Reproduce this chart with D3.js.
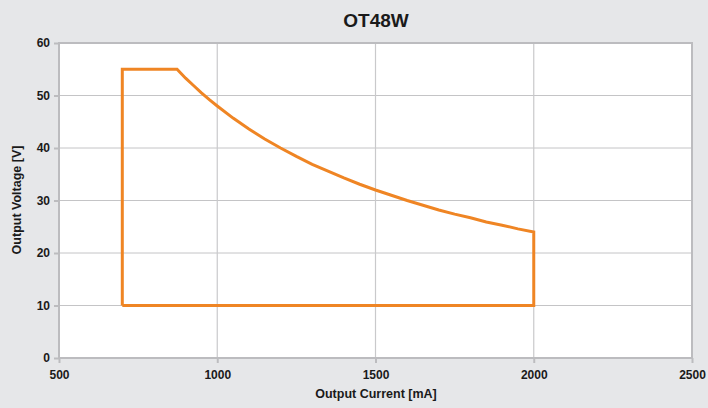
<!DOCTYPE html>
<html><head><meta charset="utf-8">
<script src="https://cdn.jsdelivr.net/npm/d3@7/dist/d3.min.js"></script>
<style>body{margin:0;background:#e6e7e9;}svg{display:block;font-family:"Liberation Sans",Arial,Helvetica,sans-serif;}</style>
</head><body><svg id="c" width="708" height="408"></svg>
<script>
const title = "OT48W";
const xLabel = "Output Current [mA]";
const yLabel = "Output Voltage [V]";
const xTicks = [500, 1000, 1500, 2000, 2500];
const yTicks = [0, 10, 20, 30, 40, 50, 60];
// operating window outline: current [mA], voltage [V]
const currents = [700, 700, 873, 900, 925, 950, 975, 1000, 1050, 1100, 1150, 1200, 1250, 1300, 1350, 1400, 1450, 1500, 1550, 1600, 1650, 1700, 1750, 1800, 1850, 1900, 1950, 2000, 2000, 700];
const voltages = [10, 55, 55, 53.3, 51.9, 50.5, 49.2, 48, 45.7, 43.6, 41.7, 40, 38.4, 36.9, 35.6, 34.3, 33.1, 32, 31.0, 30, 29.1, 28.2, 27.4, 26.7, 25.9, 25.3, 24.6, 24, 10, 10];

const svg = d3.select("#c");
const m = {l: 59, r: 692, t: 43, b: 358};
const x = d3.scaleLinear().domain([500, 2500]).range([m.l, m.r]);
const y = d3.scaleLinear().domain([0, 60]).range([m.b, m.t]);

svg.append("rect").attr("x", m.l).attr("y", m.t).attr("width", m.r - m.l).attr("height", m.b - m.t).attr("fill", "#fff");

// grid
svg.append("g").selectAll("line").data(yTicks.slice(1, -1)).join("line")
  .attr("x1", m.l).attr("x2", m.r).attr("y1", d => y(d)).attr("y2", d => y(d))
  .attr("stroke", "#c4c4c6").attr("stroke-width", 1);
svg.append("g").selectAll("line").data(xTicks.slice(1, -1)).join("line")
  .attr("y1", m.t).attr("y2", m.b).attr("x1", d => x(d)).attr("x2", d => x(d))
  .attr("stroke", "#c9c9cb").attr("stroke-width", 1.2);

// frame
svg.append("rect").attr("x", m.l).attr("y", m.t).attr("width", m.r - m.l).attr("height", m.b - m.t)
  .attr("fill", "none").attr("stroke", "#bcbcbf").attr("stroke-width", 2);

// axes
const xAxis = d3.axisBottom(x).tickValues(xTicks).tickSize(5).tickPadding(7).tickFormat(d3.format("d"));
const gx = svg.append("g").attr("transform", `translate(0,${m.b})`).call(xAxis);
const yAxis = d3.axisLeft(y).tickValues(yTicks).tickSize(5).tickPadding(4).tickFormat(d3.format("d"));
const gy = svg.append("g").attr("transform", `translate(${m.l},0)`).call(yAxis);
[gx, gy].forEach(g => {
  g.select(".domain").remove();
  g.selectAll(".tick line").attr("stroke", "#bcbcbf").attr("stroke-width", 2);
  g.selectAll(".tick text").attr("fill", "#1a1a1a").style("font-size", "12px").style("font-weight", "bold");
});

// curve
const pts = currents.map((c, i) => [c, voltages[i]]);
svg.append("path").datum(pts)
  .attr("d", d3.line().x(d => x(d[0])).y(d => y(d[1])))
  .attr("fill", "none").attr("stroke", "#ef8524").attr("stroke-width", 3).attr("stroke-linejoin", "miter");

// labels
svg.append("text").attr("x", 376).attr("y", 27).attr("text-anchor", "middle")
  .style("font-size", "19px").style("font-weight", "bold").attr("fill", "#1a1a1a").text(title);
svg.append("text").attr("x", 376).attr("y", 398).attr("text-anchor", "middle")
  .style("font-size", "12.5px").style("font-weight", "bold").attr("fill", "#1a1a1a").text(xLabel);
svg.append("text").attr("transform", "translate(21,200) rotate(-90)").attr("text-anchor", "middle")
  .style("font-size", "12.5px").style("font-weight", "bold").attr("fill", "#1a1a1a").text(yLabel);
</script></body></html>
